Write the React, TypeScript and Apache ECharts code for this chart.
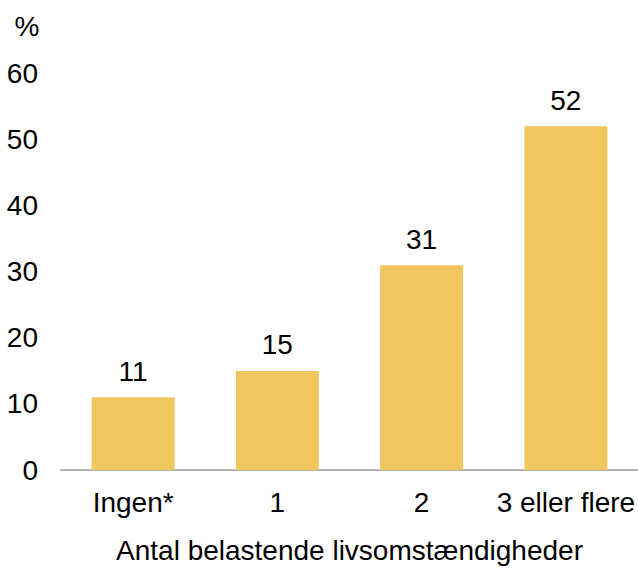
import React, { useEffect, useRef } from "react";
import * as echarts from "echarts";

const categories = ["Ingen*", "1", "2", "3 eller flere"];
const values = [11, 15, 31, 52];
const yTicks = [0, 10, 20, 30, 40, 50, 60];
const xAxisTitle = "Antal belastende livsomstændigheder";
const yUnit = "%";

export default function App() {
  const ref = useRef<HTMLDivElement>(null);
  useEffect(() => {
    if (!ref.current) return;
    const chart = echarts.init(ref.current, undefined, { renderer: "svg" });
    const font = "Liberation Sans, Arial, sans-serif";
    const fs = 28;
    chart.setOption({
      animation: false,
      textStyle: { fontFamily: font },
      grid: { left: 61, right: -4, top: 73.5, bottom: 92.3, containLabel: false },
      graphic: [
        {
          type: "text",
          x: 27,
          y: 26,
          style: {
            text: yUnit,
            fontSize: fs,
            fill: "#000",
            fontFamily: font,
            align: "center",
            verticalAlign: "middle",
          },
        },
      ],
      xAxis: {
        type: "category",
        data: categories,
        axisLine: { lineStyle: { color: "#999", width: 1.5 } },
        axisTick: { show: false },
        axisLabel: { fontSize: fs, color: "#000", margin: 18, fontFamily: font, interval: 0 },
        name: xAxisTitle,
        nameLocation: "middle",
        nameGap: 66,
        nameTextStyle: { fontSize: fs, color: "#000", fontFamily: font },
      },
      yAxis: {
        type: "value",
        min: yTicks[0],
        max: yTicks[yTicks.length - 1],
        interval: 10,
        axisLine: { show: false },
        axisTick: { show: false },
        splitLine: { show: false },
        axisLabel: { fontSize: fs, color: "#000", margin: 23, fontFamily: font },
      },
      series: [
        {
          type: "bar",
          data: values,
          barWidth: 83,
          itemStyle: { color: "#F0C75E" },
          label: {
            show: true,
            position: "top",
            distance: 12,
            fontSize: fs,
            color: "#000",
            fontFamily: font,
          },
        },
      ],
    });
    return () => chart.dispose();
  }, []);
  return (
    <div
      ref={ref}
      style={{ position: "fixed", left: 0, top: 0, width: 638, height: 569, background: "#fff" }}
    />
  );
}
